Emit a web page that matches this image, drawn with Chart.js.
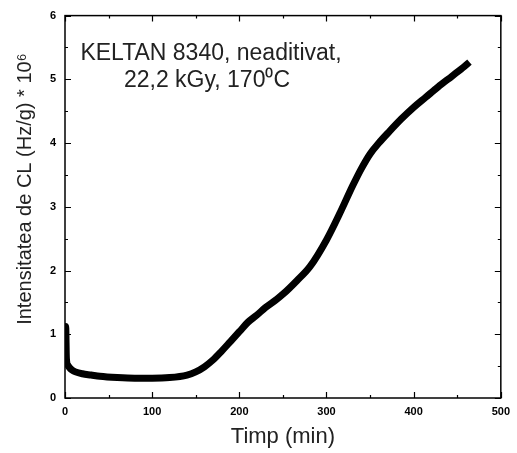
<!DOCTYPE html>
<html>
<head>
<meta charset="utf-8">
<script src="https://cdn.jsdelivr.net/npm/chart.js@4.4.1/dist/chart.umd.min.js"></script>
<style>
    html, body { margin: 0; padding: 0; background: #fff; }
    #CHART { display: block; }
</style>
</head>
<body>
<canvas id="CHART" width="517" height="453"></canvas>
<script>
"use strict"

// time (min) and CL intensity (Hz/g * 1e6)
const times = [0, 0.8, 1.6, 3, 5, 8, 12, 20, 30, 40, 60, 80, 100, 120, 140, 150, 160, 170, 180, 190,
    200, 210, 220, 230, 243, 251, 266, 281, 300, 315, 330, 340, 350, 360, 372, 386, 400, 414, 428, 444, 458, 464]
const values = [0.72, 1.12, 0.62, 0.52, 0.48, 0.44, 0.41, 0.38, 0.36, 0.34, 0.32, 0.31, 0.31, 0.32, 0.36, 0.41, 0.49, 0.60, 0.74, 0.89,
    1.04, 1.19, 1.30, 1.42, 1.55, 1.64, 1.84, 2.06, 2.48, 2.89, 3.33, 3.60, 3.83, 4.00, 4.18, 4.38, 4.56, 4.72, 4.88, 5.05, 5.20, 5.27]

const xTicks = [0, 100, 200, 300, 400, 500]
const yTicks = [0, 1, 2, 3, 4, 5, 6]
const xTitle = "Timp (min)"
const yTitle = "Intensitatea de CL (Hz/g) * 10\u2076"
const note = ["KELTAN 8340, neaditivat,", "22,2 kGy, 170\u2070C"]

const FONT = "'Liberation Sans', Arial, sans-serif"

// frame, inward ticks on all four sides, titles and the note
const decorations = {
    id: "decorations",
    afterDraw(chart) {
        const { ctx, chartArea: a, scales: { x, y } } = chart
        ctx.save()
        ctx.strokeStyle = "#000"
        ctx.lineWidth = 1.5
        ctx.strokeRect(a.left, a.top, a.right - a.left, a.bottom - a.top)
        ctx.lineWidth = 1.2
        ctx.beginPath()
        for (let v = 0; v <= 500; v += 50) {
            const px = Math.round(x.getPixelForValue(v)) + 0.5
            const len = v % 100 == 0 ? 6 : 3
            ctx.moveTo(px, a.bottom); ctx.lineTo(px, a.bottom - len)
            ctx.moveTo(px, a.top); ctx.lineTo(px, a.top + len)
        }
        for (let v = 0; v <= 6; v += 0.5) {
            const py = Math.round(y.getPixelForValue(v)) + 0.5
            const len = v % 1 == 0 ? 6 : 3
            ctx.moveTo(a.left, py); ctx.lineTo(a.left + len, py)
            ctx.moveTo(a.right, py); ctx.lineTo(a.right - len, py)
        }
        ctx.stroke()

        ctx.fillStyle = "#222"
        ctx.textAlign = "center"
        ctx.textBaseline = "alphabetic"
        ctx.font = "22px " + FONT
        ctx.fillText(xTitle, (a.left + a.right) / 2, 443)

        ctx.save()
        ctx.font = "20px " + FONT
        ctx.translate(31, 189)
        ctx.rotate(-Math.PI / 2)
        ctx.fillText(yTitle, 0, 0)
        ctx.restore()

        ctx.font = "23px " + FONT
        ctx.fillText(note[0], 211, 60)
        ctx.fillText(note[1], 207, 87)
        ctx.restore()
    }
}

new Chart(CHART, {
    type: "scatter",
    data: {
        datasets: [{
            data: times.map((t, i) => ({ x: t, y: values[i] })),
            showLine: true,
            borderColor: "#000",
            backgroundColor: "#000",
            borderWidth: 7,
            pointRadius: 0,
            cubicInterpolationMode: "monotone",
        }]
    },
    options: {
        animation: false,
        responsive: false,
        maintainAspectRatio: false,
        layout: { padding: { top: 15, right: 10, left: 0, bottom: 0 } },
        plugins: { legend: { display: false }, tooltip: { enabled: false } },
        scales: {
            x: {
                type: "linear",
                min: 0, max: 500,
                grid: { display: false, drawTicks: false },
                border: { display: false },
                ticks: {
                    padding: 7,
                    color: "#000",
                    font: { family: FONT, size: 11, weight: "bold" },
                    maxRotation: 0,
                },
                afterBuildTicks: axis => axis.ticks = xTicks.map(v => ({ value: v })),
                afterFit: axis => axis.height = 55,
            },
            y: {
                type: "linear",
                min: 0, max: 6,
                grid: { display: false, drawTicks: false },
                border: { display: false },
                ticks: {
                    padding: 9,
                    color: "#000",
                    font: { family: FONT, size: 11, weight: "bold" },
                },
                afterBuildTicks: axis => axis.ticks = yTicks.map(v => ({ value: v })),
                afterFit: axis => axis.width = 65,
            }
        }
    },
    plugins: [decorations],
})
</script>
</body>
</html>
